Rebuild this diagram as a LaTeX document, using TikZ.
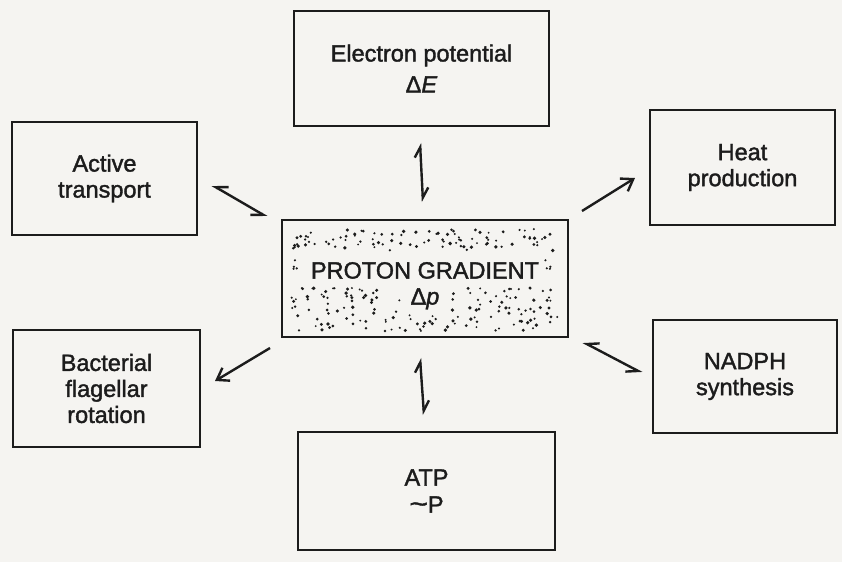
\documentclass[tikz,border=0pt]{standalone}
\usepackage{fontspec}
\setmainfont{Liberation Sans}
\newfontfamily\labfont{Liberation Sans}[FakeBold=1.6]
\usetikzlibrary{arrows.meta}
\definecolor{paper}{RGB}{245,244,241}
\definecolor{ink}{RGB}{28,28,28}
\begin{document}
\begin{tikzpicture}[x=1pt,y=-1pt,
  box/.style={draw=ink, line width=2.1pt, align=center, inner sep=0pt,
    text=ink, font=\labfont\fontsize{23.5}{26}\selectfont},
  conn/.style={draw=ink, line width=2.4pt},
  harpL/.style={conn, arrows={Straight Barb[left,length=10pt,width=12pt]-Straight Barb[left,length=10pt,width=12pt]}},
  harpR/.style={conn, arrows={Straight Barb[right,length=11pt,width=13pt]-Straight Barb[right,length=11pt,width=13pt]}},
  oneway/.style={conn, arrows={-Straight Barb[length=11pt,width=15pt]}},
  dot/.style={fill=ink}]
\useasboundingbox (0,0) rectangle (842,562);
\fill[paper] (0,0) rectangle (842,562);

% stipple of the proton gradient box
\pgfmathsetseed{11}
\foreach \i in {1,...,95}{
  \pgfmathsetmacro\xx{293+264*rnd}
  \pgfmathsetmacro\yy{229+22*rnd}
  \pgfmathsetmacro\rr{1.0+0.9*rnd}
  \fill[dot] (\xx,\yy) circle (\rr pt);
}
\foreach \i in {1,...,65}{
  \pgfmathsetmacro\xx{291+110*rnd}
  \pgfmathsetmacro\yy{288+43*rnd}
  \pgfmathsetmacro\rr{1.0+0.9*rnd}
  \fill[dot] (\xx,\yy) circle (\rr pt);
}
\foreach \i in {1,...,65}{
  \pgfmathsetmacro\xx{451+107*rnd}
  \pgfmathsetmacro\yy{288+43*rnd}
  \pgfmathsetmacro\rr{1.0+0.9*rnd}
  \fill[dot] (\xx,\yy) circle (\rr pt);
}
\foreach \i in {1,...,14}{
  \pgfmathsetmacro\xx{402+46*rnd}
  \pgfmathsetmacro\yy{315+16*rnd}
  \pgfmathsetmacro\rr{1.0+0.9*rnd}
  \fill[dot] (\xx,\yy) circle (\rr pt);
}
\foreach \i in {1,...,4}{
  \pgfmathsetmacro\xx{289+12*rnd}
  \pgfmathsetmacro\yy{258+25*rnd}
  \fill[dot] (\xx,\yy) circle (1.2pt);
  \pgfmathsetmacro\xx{545+13*rnd}
  \fill[dot] (\xx,\yy) circle (1.2pt);
}

% boxes
\node[box, minimum width=255pt, minimum height=115pt] (elec) at (421.5,68.5)
  {Electron potential\\[5pt]Δ\textit{E}};
\node[box, minimum width=286pt, minimum height=117pt] (prot) at (425,278.5)
  {\rule{0pt}{31pt}PROTON GRADIENT\\[0pt]Δ\textit{p}};
\node[box, minimum width=185pt, minimum height=113pt] (act) at (104.5,178.5)
  {Active\\transport};
\node[box, minimum width=187pt, minimum height=117pt] (bac) at (106.5,388.5)
  {Bacterial\\flagellar\\rotation};
\node[box, minimum width=185pt, minimum height=115pt] (heat) at (742.5,167.5)
  {Heat\\production};
\node[box, minimum width=184pt, minimum height=113pt] (nadph) at (745,376.5)
  {NADPH\\synthesis};
\node[box, minimum width=257pt, minimum height=118pt] (atp) at (426.5,491)
  {ATP\\[1pt]\scalebox{1.35}[1.1]{\textasciitilde}P};

% connector ends
\coordinate (eT) at (420,143);
\coordinate (eB) at (423,202);
\coordinate (aT) at (420,358);
\coordinate (aB) at (424,415);
\coordinate (tA) at (212,185);
\coordinate (tP) at (267,217);
\coordinate (hP) at (582,211);
\coordinate (hH) at (635,178);
\coordinate (bP) at (270,348);
\coordinate (bB) at (215,381);
\coordinate (nP) at (583,342);
\coordinate (nN) at (642,373);

\draw[harpL] (eT) -- (eB);
\draw[harpL] (aT) -- (aB);
\draw[harpR] (tA) -- (tP);
\draw[harpR] (nP) -- (nN);
\draw[oneway] (hP) -- (hH);
\draw[oneway] (bP) -- (bB);
\end{tikzpicture}
\end{document}
